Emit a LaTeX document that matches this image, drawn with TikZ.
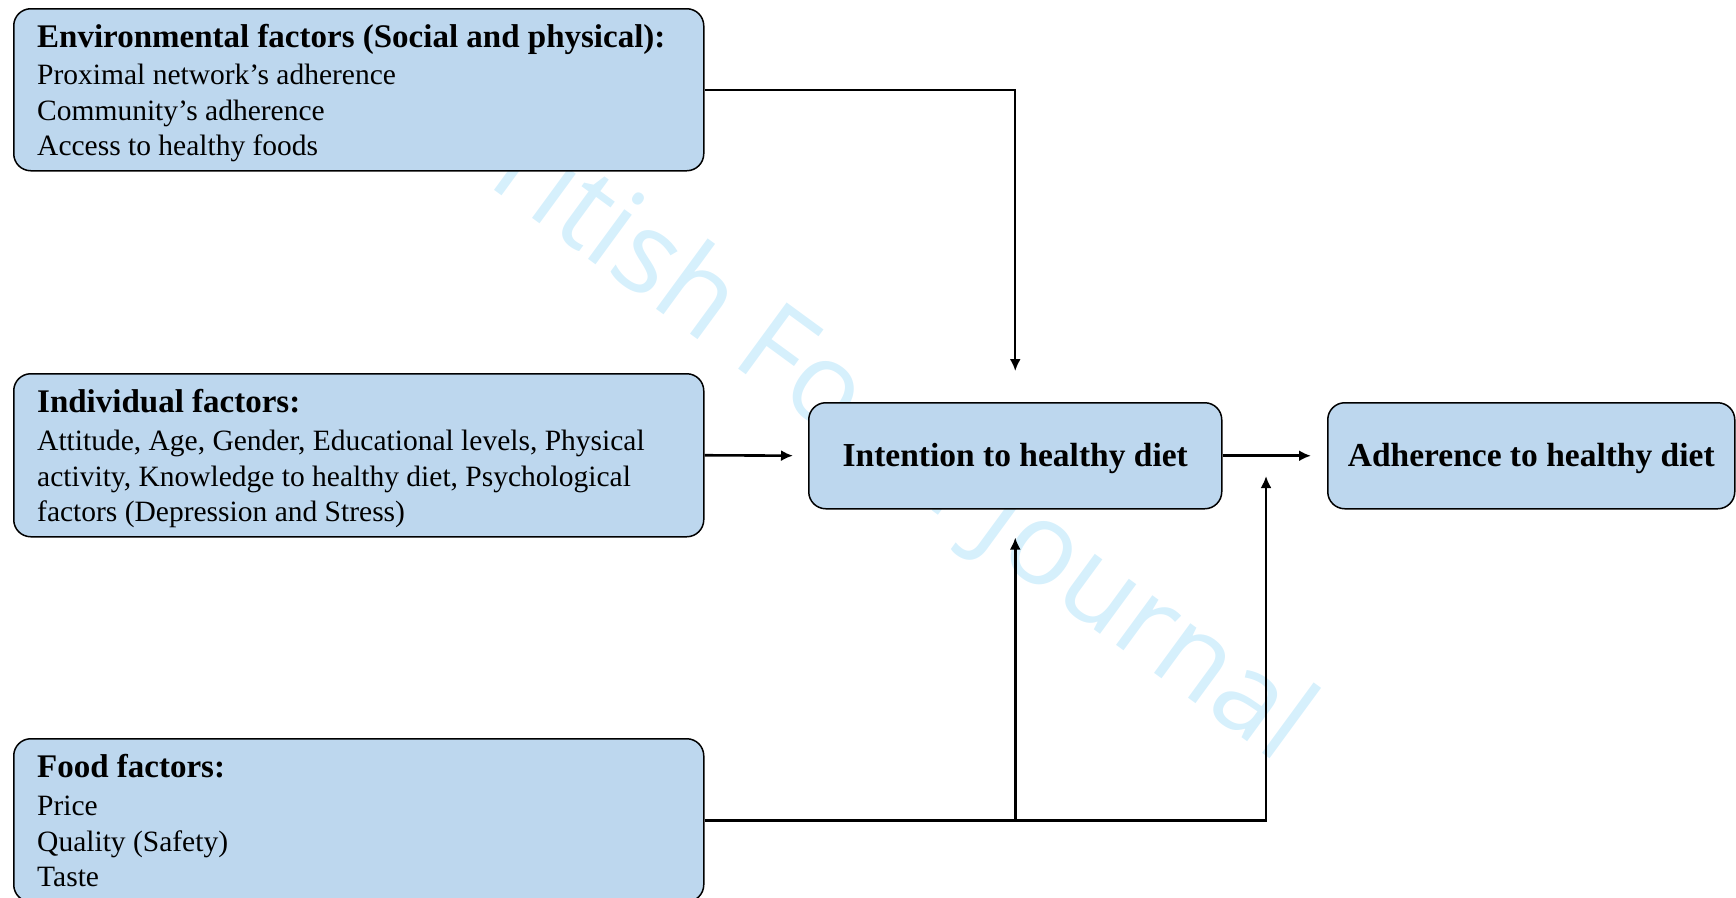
\documentclass[tikz,border=0pt]{standalone}
\usepackage{fontspec}
\setmainfont{Liberation Serif}
\newfontfamily\marksans{Open Sans}
\usetikzlibrary{arrows.meta,calc}

\definecolor{boxfill}{HTML}{BDD7EE}
\definecolor{markblue}{HTML}{D6F0FC}

\tikzset{
  factorbox/.style={draw=black, line width=1.5pt, fill=boxfill, rounded corners=17pt,
    inner sep=0pt, anchor=north west},
  headtext/.style={anchor=base west, inner sep=0pt, font=\fontsize{33}{40}\selectfont\bfseries},
  bodytext/.style={anchor=base west, inner sep=0pt, font=\fontsize{29.5}{35.5}\selectfont},
  centretext/.style={anchor=base, inner sep=0pt, font=\fontsize{33.5}{40}\selectfont\bfseries},
  arr/.style={draw=black, line width=2.6pt, -{Latex[length=12pt,width=11pt]}},
}

\begin{document}
\begin{tikzpicture}[x=1pt, y=-1pt]
  \useasboundingbox (0,0) rectangle (1736,897);

  % background mark, drawn first so the boxes cover it
  \node[text=markblue, rotate=-36.2, inner sep=0pt,
        font=\marksans\fontsize{115}{115}\selectfont] (mark) at (872,426)
        {British Food Journal};

  % boxes
  \node[factorbox, minimum width=690pt, minimum height=162pt] (env) at (13,8) {};
  \node[factorbox, minimum width=690pt, minimum height=163pt] (ind) at (13,373) {};
  \node[factorbox, minimum width=690pt, minimum height=163pt] (food) at (13,738) {};
  \node[factorbox, minimum width=413pt, minimum height=106pt] (intent) at (808,402) {};
  \node[factorbox, minimum width=407pt, minimum height=106pt] (adh) at (1327,402) {};

  % environmental factors
  \node[headtext] (envh) at (37,47) {Environmental factors (Social and physical):};
  \node[bodytext] (env1) at (37,84) {Proximal network’s adherence};
  \node[bodytext] (env2) at (37,120) {Community’s adherence};
  \node[bodytext] (env3) at (37,155) {Access to healthy foods};

  % individual factors
  \node[headtext] (indh) at (37,412) {Individual factors:};
  \node[bodytext] (ind1) at (37,450) {Attitude, Age, Gender, Educational levels, Physical};
  \node[bodytext] (ind2) at (37,486) {activity, Knowledge to healthy diet, Psychological};
  \node[bodytext] (ind3) at (37,521) {factors (Depression and Stress)};

  % food factors
  \node[headtext] (foodh) at (37,777) {Food factors:};
  \node[bodytext] (food1) at (37,815) {Price};
  \node[bodytext] (food2) at (37,851) {Quality (Safety)};
  \node[bodytext] (food3) at (37,886) {Taste};

  % outcome boxes
  \node[centretext] (intentt) at ($(intent.center)+(0,11)$) {Intention to healthy diet};
  \node[centretext] (adht) at ($(adh.center)+(0,11)$) {Adherence to healthy diet};

  % connector ends
  \coordinate (envtip) at ($(intent.north)+(0,-31)$);
  \coordinate (foodtip) at ($(intent.south)+(0,28)$);
  \coordinate (junc) at (intent.south |- food.east);
  \coordinate (adhtip) at (1266,476);
  \coordinate (adhfoot) at (adhtip |- food.east);

  % connectors
  \draw[arr, line width=2.2pt] (env.east) -| (envtip);
  \draw[arr, shorten >=15pt] (ind.east) -- (intent.west);
  \draw[arr, shorten >=16pt] (intent.east) -- (adh.west);
  \draw[arr] (food.east) -| (foodtip);
  \draw[arr] (junc) -- (adhfoot) -- (adhtip);
\end{tikzpicture}
\end{document}
